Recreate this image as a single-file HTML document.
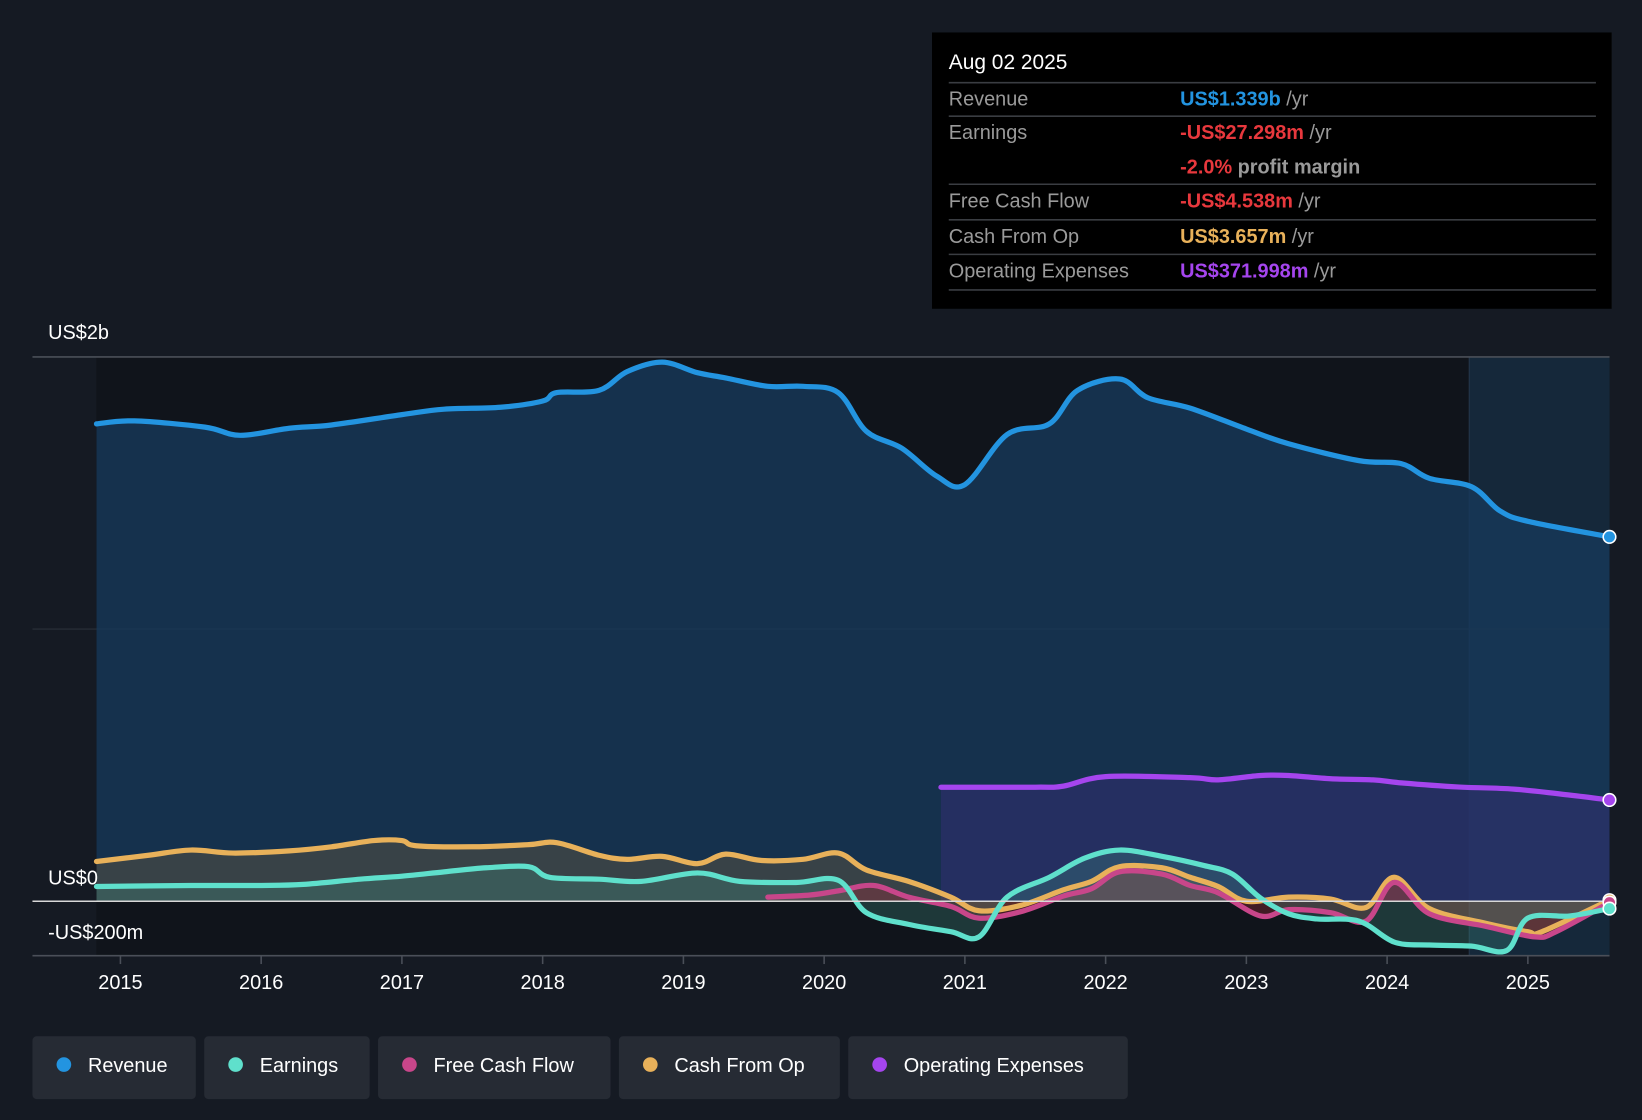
<!DOCTYPE html>
<html><head><meta charset="utf-8"><style>
html,body{margin:0;padding:0;background:#151a23;}
svg{display:block;font-family:"Liberation Sans",sans-serif;}
</style></head><body>
<svg id="chart" width="1642" height="1120" viewBox="0 0 1568 1070" preserveAspectRatio="none" xmlns="http://www.w3.org/2000/svg">
<rect x="0" y="0" width="1568" height="1070" fill="#151a23"/>
<rect x="92" y="341" width="1311" height="572" fill="#10141b"/>
<rect x="1403" y="341" width="134" height="572" fill="#15283a"/>
<line x1="1403" y1="341" x2="1403" y2="913" stroke="#25364a" stroke-width="1"/>
<line x1="31" y1="341" x2="1537" y2="341" stroke="#4a4f58" stroke-width="1.5"/>
<line x1="31" y1="601" x2="1537" y2="601" stroke="#2a303a" stroke-width="1"/>
<g id="areas"></g>
<g id="lines"></g>
<line x1="31" y1="861" x2="1537" y2="861" stroke="#d8d8d8" stroke-width="1.5"/>
<line x1="31" y1="913" x2="1537" y2="913" stroke="#4a4f58" stroke-width="1.5"/>
<g id="dots"></g>
<g id="xticks" font-size="19" fill="#ffffff"></g>
<text x="46" y="324" font-size="19" fill="#fff">US$2b</text>
<text x="46" y="845" font-size="19" fill="#fff">US$0</text>
<text x="46" y="897" font-size="19" fill="#fff">-US$200m</text>

<g>
<rect x="890" y="31" width="649" height="264" fill="#000"/>
<text x="906" y="66" font-size="20" fill="#fff">Aug 02 2025</text>
<g stroke="#3a3d42" stroke-width="1.5">
<line x1="906" y1="79" x2="1524" y2="79"/><line x1="906" y1="111" x2="1524" y2="111"/>
<line x1="906" y1="176" x2="1524" y2="176"/><line x1="906" y1="210" x2="1524" y2="210"/>
<line x1="906" y1="243" x2="1524" y2="243"/><line x1="906" y1="277" x2="1524" y2="277"/>
</g>
<g font-size="19" fill="#9a9a9a">
<text x="906" y="101">Revenue</text><text x="906" y="133">Earnings</text>
<text x="906" y="198">Free Cash Flow</text><text x="906" y="232">Cash From Op</text>
<text x="906" y="265">Operating Expenses</text>
</g>
<g font-size="19" font-weight="bold">
<text x="1127" y="101"><tspan fill="#2394e0">US$1.339b</tspan><tspan fill="#9a9a9a" font-weight="normal"> /yr</tspan></text>
<text x="1127" y="133"><tspan fill="#e8383d">-US$27.298m</tspan><tspan fill="#9a9a9a" font-weight="normal"> /yr</tspan></text>
<text x="1127" y="166"><tspan fill="#e8383d">-2.0%</tspan><tspan fill="#9a9a9a"> profit margin</tspan></text>
<text x="1127" y="198"><tspan fill="#e8383d">-US$4.538m</tspan><tspan fill="#9a9a9a" font-weight="normal"> /yr</tspan></text>
<text x="1127" y="232"><tspan fill="#e8b15a">US$3.657m</tspan><tspan fill="#9a9a9a" font-weight="normal"> /yr</tspan></text>
<text x="1127" y="265"><tspan fill="#a545ee">US$371.998m</tspan><tspan fill="#9a9a9a" font-weight="normal"> /yr</tspan></text>
</g>
</g>

<g font-size="19" fill="#fff">
<g><rect x="31" y="990" width="156" height="60" rx="4" fill="#262b34"/><circle cx="61" cy="1017" r="7" fill="#2394e0"/><text x="84" y="1024">Revenue</text></g>
<g><rect x="195" y="990" width="158" height="60" rx="4" fill="#262b34"/><circle cx="225" cy="1017" r="7" fill="#5fe0cc"/><text x="248" y="1024">Earnings</text></g>
<g><rect x="361" y="990" width="222" height="60" rx="4" fill="#262b34"/><circle cx="391" cy="1017" r="7" fill="#c8468a"/><text x="414" y="1024">Free Cash Flow</text></g>
<g><rect x="591" y="990" width="211" height="60" rx="4" fill="#262b34"/><circle cx="621" cy="1017" r="7" fill="#e8b15a"/><text x="644" y="1024">Cash From Op</text></g>
<g><rect x="810" y="990" width="267" height="60" rx="4" fill="#262b34"/><circle cx="840" cy="1017" r="7" fill="#a545ee"/><text x="863" y="1024">Operating Expenses</text></g>
</g>
</svg>
<script>
const years=[2015,2016,2017,2018,2019,2020,2021,2022,2023,2024,2025];
const revT=[2014.83,2015.1,2015.6,2015.85,2016.2,2016.5,2017,2017.3,2017.7,2018,2018.1,2018.4,2018.6,2018.85,2019.1,2019.3,2019.6,2019.85,2020.1,2020.3,2020.55,2020.8,2021,2021.3,2021.6,2021.8,2022.1,2022.3,2022.6,2023,2023.3,2023.8,2024.1,2024.3,2024.6,2024.8,2025,2025.58];
const revV=[1754,1765,1742,1712,1738,1750,1788,1808,1815,1838,1869,1877,1946,1981,1942,1923,1892,1892,1869,1727,1665,1562,1531,1715,1754,1877,1919,1850,1812,1735,1681,1619,1608,1554,1523,1435,1396,1339];
const opxT=[2020.83,2021.5,2021.7,2022,2022.6,2022.8,2023.1,2023.3,2023.6,2023.9,2024.1,2024.5,2024.9,2025.3,2025.58];
const opxV=[419,419,423,458,454,446,462,462,450,446,435,420,412,390,372];
const cfoT=[2014.83,2015.2,2015.5,2015.8,2016.2,2016.5,2016.8,2017,2017.1,2017.5,2017.9,2018.1,2018.4,2018.6,2018.85,2019.1,2019.3,2019.55,2019.85,2020.1,2020.3,2020.6,2020.9,2021.1,2021.4,2021.7,2021.9,2022.1,2022.4,2022.6,2022.8,2023,2023.3,2023.6,2023.85,2024.05,2024.3,2024.7,2025,2025.1,2025.58];
const cfoV=[146,169,188,177,185,200,223,223,204,200,208,215,169,154,165,138,173,150,154,177,115,73,15,-35,-15,42,73,127,123,88,54,0,15,8,-23,88,-27,-81,-112,-112,4];
const fcfT=[2019.6,2019.9,2020.1,2020.35,2020.6,2020.9,2021.1,2021.4,2021.7,2021.9,2022.1,2022.4,2022.6,2022.8,2023.1,2023.3,2023.6,2023.85,2024.05,2024.3,2024.7,2025.05,2025.2,2025.58];
const fcfV=[15,23,38,58,15,-19,-62,-38,19,46,108,100,58,31,-54,-31,-42,-73,69,-46,-92,-131,-112,-5];
const ernT=[2014.83,2015.5,2016,2016.3,2016.7,2017,2017.3,2017.6,2017.9,2018.05,2018.4,2018.7,2019.1,2019.4,2019.8,2020.1,2020.3,2020.6,2020.9,2021.1,2021.3,2021.6,2021.85,2022.1,2022.4,2022.7,2022.9,2023.1,2023.3,2023.5,2023.8,2024.05,2024.3,2024.6,2024.85,2025,2025.3,2025.58];
const ernV=[54,58,58,62,81,92,108,123,127,88,81,73,104,73,69,77,-42,-85,-112,-131,15,88,158,188,165,131,100,12,-46,-65,-73,-150,-161,-165,-181,-62,-54,-27];
const X=t=>115+(t-2015)*134.4;
const Y=v=>861-v*0.26;
const NS='http://www.w3.org/2000/svg';
function pts(T,V){return T.map((t,i)=>[X(t),Y(V[i])]);}
function smooth(p){let d='M'+p[0][0]+','+p[0][1];for(let i=0;i<p.length-1;i++){const p0=p[i-1]||p[i],p1=p[i],p2=p[i+1],p3=p[i+2]||p2;const c1=[p1[0]+(p2[0]-p0[0])/6,p1[1]+(p2[1]-p0[1])/6],c2=[p2[0]-(p3[0]-p1[0])/6,p2[1]-(p3[1]-p1[1])/6];d+=`C${c1[0]},${c1[1]} ${c2[0]},${c2[1]} ${p2[0]},${p2[1]}`;}return d;}
const series=[
 {n:'revenue',T:revT,V:revV,c:'#2394e0',f:'#16385a',fo:0.8},
 {n:'operating-expenses',T:opxT,V:opxV,c:'#a545ee',f:'#3a2f7a',fo:0.45},
 {n:'cash-from-op',T:cfoT,V:cfoV,c:'#e8b15a',f:'#8a6a3a',fo:0.3},
 {n:'free-cash-flow',T:fcfT,V:fcfV,c:'#c8468a',f:'#a02a3a',fo:0.35},
 {n:'earnings',T:ernT,V:ernV,c:'#5fe0cc',f:'#3f8f80',fo:0.3}
];
const ga=document.getElementById('areas'),gl=document.getElementById('lines'),gd=document.getElementById('dots');
series.forEach(s=>{const p=pts(s.T,s.V);const d=smooth(p);
 const a=document.createElementNS(NS,'path');
 a.setAttribute('d',d+`L${p[p.length-1][0]},861L${p[0][0]},861Z`);
 a.setAttribute('fill',s.f);a.setAttribute('fill-opacity',s.fo);
 
 
 ga.appendChild(a);
 const l=document.createElementNS(NS,'path');
 l.setAttribute('d',d);l.setAttribute('fill','none');l.setAttribute('stroke',s.c);l.setAttribute('stroke-width','5');l.setAttribute('stroke-linejoin','round');l.setAttribute('stroke-linecap','round');
 
 
 gl.appendChild(l);
 const c=document.createElementNS(NS,'circle');const e=p[p.length-1];
 c.setAttribute('cx',e[0]);c.setAttribute('cy',e[1]);c.setAttribute('r','6');c.setAttribute('fill',s.c);c.setAttribute('stroke','#fff');c.setAttribute('stroke-width','1.5');
 
 
 gd.appendChild(c);
});
const gx=document.getElementById('xticks');
years.forEach(y=>{const x=X(y);
 const t=document.createElementNS(NS,'line');t.setAttribute('x1',x);t.setAttribute('x2',x);t.setAttribute('y1',913);t.setAttribute('y2',921);t.setAttribute('stroke','#4a4f58');t.setAttribute('stroke-width','1.5');
 
 
 gx.appendChild(t);
 const tx=document.createElementNS(NS,'text');tx.setAttribute('x',x);tx.setAttribute('y',945);tx.setAttribute('text-anchor','middle');tx.textContent=y;
 
 
 gx.appendChild(tx);
});
</script>
</body></html>
